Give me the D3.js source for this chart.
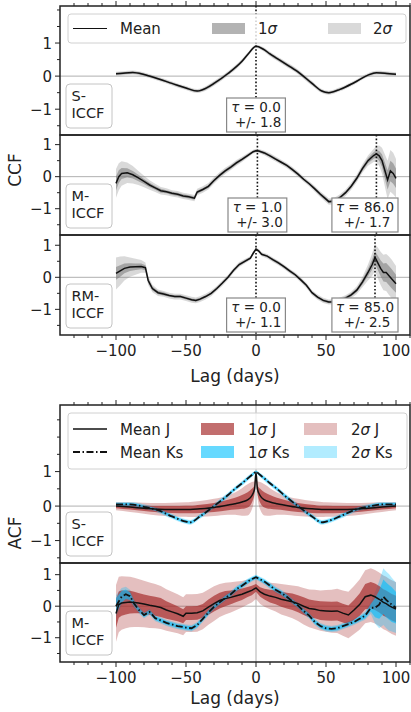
<!DOCTYPE html>
<html>
<head>
<meta charset="utf-8">
<script src="https://cdn.jsdelivr.net/npm/d3@7"></script>
<style>
body { margin: 0; background: #fff; }
text { font-family: "DejaVu Sans", sans-serif; fill: #222; }
</style>
</head>
<body>
<div id="chart"></div>
<script>
// ---------- CCF data (top figure) ----------
var lagS1 = [-100,-95,-88,-80,-70,-60,-50,-42,-35,-30,-20,-10,-5,0,5,10,20,30,40,47,52,60,70,80,86,92,100]
var ccfS1 = [0.07,0.09,0.11,0.05,-0.08,-0.22,-0.36,-0.45,-0.35,-0.22,0.08,0.45,0.7,0.9,0.82,0.67,0.4,0.13,-0.22,-0.45,-0.5,-0.4,-0.2,0.03,0.1,0.09,0.06]
var s1S1 = [0.03,0.03,0.03,0.03,0.03,0.03,0.03,0.03,0.04,0.04,0.04,0.04,0.03,0.02,0.03,0.04,0.04,0.04,0.04,0.03,0.03,0.03,0.03,0.03,0.03,0.03,0.03]
var s2S1 = [0.06,0.06,0.06,0.06,0.06,0.06,0.06,0.06,0.07,0.07,0.07,0.07,0.06,0.05,0.06,0.07,0.07,0.07,0.07,0.06,0.06,0.06,0.06,0.06,0.06,0.06,0.06]

var lagM1 = [-100,-98,-96,-92,-88,-84,-80,-76,-72,-68,-64,-60,-56,-52,-48,-44,-42,-38,-34,-30,-26,-22,-18,-14,-10,-6,-2,0,2,6,10,14,18,22,26,30,34,38,42,46,50,52,56,60,64,68,72,76,80,84,86,88,90,92,94,96,98,100]
var ccfM1 = [-0.21,0.0,0.1,0.12,0.06, -0.04,-0.15,-0.26,-0.35,-0.44, -0.47,-0.52,-0.55,-0.6,-0.63, -0.67,-0.48,-0.4,-0.3,-0.12,
  0.04,0.18,0.3,0.43,0.54, 0.66,0.78,0.81,0.8,0.74, 0.65,0.55,0.45,0.35,0.22, 0.08,-0.08,-0.22,-0.38,-0.55,
  -0.7,-0.78,-0.76,-0.65,-0.5, -0.3,-0.05,0.25,0.5,0.66, 0.71,0.65,0.5,0.2,-0.1, 0.18,0.1,-0.05]
var s1M1 = [0.22,0.2,0.17,0.14,0.12, 0.1,0.08,0.07,0.06,0.06, 0.05,0.05,0.05,0.05,0.05, 0.05,0.05,0.05,0.05,0.05,
  0.05,0.05,0.05,0.05,0.04, 0.04,0.03,0.03,0.03,0.04, 0.04,0.04,0.04,0.04,0.04, 0.04,0.04,0.04,0.04,0.05,
  0.05,0.05,0.05,0.05,0.05, 0.05,0.06,0.07,0.08,0.1, 0.12,0.15,0.2,0.25,0.3, 0.32,0.32,0.3]
var s2M1 = [0.45,0.42,0.38,0.32,0.27, 0.22,0.18,0.15,0.13,0.12, 0.11,0.1,0.1,0.1,0.1, 0.1,0.1,0.1,0.1,0.1,
  0.1,0.1,0.09,0.09,0.08, 0.07,0.06,0.06,0.06,0.07, 0.08,0.08,0.08,0.08,0.08, 0.08,0.08,0.08,0.09,0.09,
  0.1,0.1,0.1,0.1,0.1, 0.11,0.12,0.13,0.16,0.2, 0.25,0.32,0.4,0.5,0.6, 0.65,0.65,0.6]

var lagR1 = [-100,-97,-94,-90,-86,-82,-79,-77,-74,-70,-66,-62,-58,-54,-50,-46,-43,-40,-36,-32,-28,-24,-20,-16,-12,-8,-4,-2,0,2,4,8,12,16,20,24,28,32,36,40,44,48,52,56,60,64,68,72,76,80,83,85,87,89,91,93,95,97,100]
var ccfR1 = [0.12,0.2,0.28,0.32,0.33, 0.34,0.3,-0.1,-0.35,-0.48, -0.52,-0.57,-0.6,-0.6,-0.65, -0.7,-0.72,-0.68,-0.6,-0.5,
  -0.35,-0.18,0.0,0.22,0.4, 0.5,0.6,0.75,0.88,0.82, 0.72,0.66,0.55,0.45,0.33, 0.2,0.08,-0.08,-0.25,-0.48,
  -0.62,-0.72,-0.77,-0.76,-0.72, -0.65,-0.55,-0.4,-0.15,0.15, 0.4,0.62,0.45,0.28,0.15, 0.15,0.05,-0.05,-0.2]
var s1R1 = [0.2,0.18,0.15,0.12,0.1, 0.09,0.08,0.07,0.06,0.05, 0.05,0.04,0.04,0.04,0.04, 0.04,0.04,0.04,0.04,0.04,
  0.04,0.04,0.04,0.04,0.04, 0.04,0.03,0.03,0.03,0.03, 0.03,0.03,0.04,0.04,0.04, 0.04,0.04,0.04,0.04,0.04,
  0.04,0.04,0.04,0.04,0.04, 0.05,0.05,0.06,0.08,0.12, 0.16,0.2,0.22,0.25,0.28, 0.3,0.3,0.3,0.28]
var s2R1 = [0.5,0.45,0.38,0.3,0.25, 0.2,0.16,0.14,0.12,0.1, 0.09,0.09,0.09,0.09,0.09, 0.09,0.09,0.09,0.09,0.09,
  0.08,0.08,0.08,0.08,0.08, 0.07,0.06,0.06,0.05,0.06, 0.06,0.07,0.07,0.07,0.07, 0.07,0.07,0.08,0.08,0.08,
  0.08,0.08,0.08,0.08,0.09, 0.09,0.1,0.12,0.16,0.25, 0.35,0.42,0.48,0.52,0.55, 0.58,0.6,0.6,0.55]

// peak lags and errors written in the boxes
var tauVal = [[0.0], [1.0, 86.0], [0.0, 85.0]]
var tauErr = [[1.8], [3.0, 1.7], [1.1, 2.5]]

// ---------- ACF data (bottom figure) ----------
var lagSA = [-100,-90,-80,-70,-60,-50,-47,-40,-30,-20,-15,-10,-6,-3,-1,0,1,3,6,10,15,20,30,40,47,50,60,70,80,90,100]
var acfJ_S = [0.0,-0.03,-0.06,-0.09,-0.1,-0.1,-0.1,-0.08,-0.04,0.03,0.07,0.12,0.18,0.3,0.5,0.98,
  0.5,0.3,0.18,0.12,0.07,0.03,-0.04,-0.08,-0.1,-0.1,-0.1,-0.09,-0.06,-0.03,0.0]
var s1J_S = [0.06,0.07,0.08,0.09,0.1,0.11,0.11,0.12,0.13,0.15,0.17,0.2,0.22,0.2,0.12,0.02,
  0.12,0.2,0.22,0.2,0.17,0.15,0.13,0.12,0.11,0.11,0.1,0.09,0.08,0.07,0.06]
var s2J_S = [0.12,0.14,0.16,0.18,0.2,0.21,0.22,0.23,0.25,0.28,0.32,0.4,0.45,0.4,0.22,0.03,
  0.22,0.4,0.45,0.4,0.32,0.28,0.25,0.23,0.22,0.21,0.2,0.18,0.16,0.14,0.12]
var acfK_S = [0.05,0.05,-0.02,-0.12,-0.3,-0.45,-0.47,-0.3,0.0,0.32,0.5,0.66,0.8,0.9,0.97,1.0,
  0.97,0.9,0.8,0.66,0.5,0.32,0.0,-0.3,-0.47,-0.45,-0.3,-0.12,-0.02,0.05,0.05]
var s1K_S = [0.04,0.04,0.04,0.04,0.04,0.04,0.04,0.04,0.04,0.04,0.04,0.04,0.04,0.04,0.03,0.02,
  0.03,0.04,0.04,0.04,0.04,0.04,0.04,0.04,0.04,0.04,0.04,0.04,0.04,0.04,0.04]
var s2K_S = [0.07,0.07,0.07,0.07,0.07,0.07,0.07,0.07,0.07,0.07,0.07,0.07,0.07,0.06,0.05,0.03,
  0.05,0.06,0.07,0.07,0.07,0.07,0.07,0.07,0.07,0.07,0.07,0.07,0.07,0.07,0.07]

var lagMA = [-100,-98,-96,-93,-90,-87,-84,-80,-76,-72,-68,-64,-60,-56,-52,-50,-46,-42,-38,-34,-30,-26,-22,-18,-14,-10,-6,-3,0,3,6,10,14,18,22,26,30,34,38,42,46,50,54,58,62,66,70,74,78,82,85,88,91,93,95,97,100]
var acfJ_M = [-0.23,0.05,0.1,0.12,0.13, 0.12,0.1,0.07,0.03,0.0, -0.04,-0.12,-0.18,-0.24,-0.32, -0.22,-0.22,-0.21,-0.15,-0.03,
  0.08,0.18,0.24,0.28,0.33, 0.38,0.45,0.5,0.58,0.45, 0.38,0.32,0.28,0.22,0.18, 0.14,0.08,0.0,-0.07,-0.1,
  -0.14,-0.15,-0.16,-0.15,-0.22, -0.28,-0.12,0.05,0.3,0.35, 0.3,0.22,0.12,0.08,0.02, -0.03,-0.09]
var s1J_M = [0.45,0.42,0.4,0.38,0.36, 0.34,0.32,0.3,0.3,0.3, 0.3,0.28,0.26,0.24,0.22, 0.22,0.22,0.22,0.22,0.24,
  0.25,0.25,0.24,0.22,0.2, 0.18,0.16,0.15,0.12,0.15, 0.17,0.2,0.22,0.24,0.25, 0.26,0.27,0.28,0.28,0.28,
  0.3,0.3,0.3,0.3,0.3, 0.3,0.32,0.35,0.4,0.42, 0.42,0.42,0.42,0.42,0.42, 0.42,0.42]
var s2J_M = [0.9,0.88,0.85,0.82,0.8, 0.78,0.76,0.74,0.72,0.7, 0.68,0.66,0.64,0.62,0.6, 0.6,0.6,0.6,0.58,0.56,
  0.55,0.52,0.5,0.48,0.45, 0.42,0.4,0.38,0.35,0.38, 0.4,0.42,0.45,0.48,0.5, 0.52,0.55,0.58,0.6,0.62,
  0.64,0.66,0.68,0.7,0.72, 0.74,0.76,0.8,0.84,0.85, 0.85,0.85,0.85,0.85,0.85, 0.85,0.85]
var acfK_M = [0.0,0.15,0.3,0.38,0.32, 0.08,-0.1,-0.28,-0.18,-0.38, -0.45,-0.53,-0.58,-0.63,-0.66, -0.68,-0.7,-0.6,-0.4,-0.2,
  -0.02,0.12,0.26,0.38,0.54, 0.65,0.78,0.86,0.92,0.85, 0.78,0.65,0.52,0.42,0.3, 0.15,0.02,-0.15,-0.3,-0.5,
  -0.63,-0.7,-0.72,-0.7,-0.63, -0.57,-0.5,-0.4,-0.3,-0.05, -0.05,0.05,0.3,0.2,0.12, 0.05,-0.05]
var s1K_M = [0.25,0.22,0.18,0.15,0.12, 0.08,0.07,0.06,0.06,0.06, 0.06,0.06,0.06,0.06,0.06, 0.06,0.06,0.06,0.06,0.06,
  0.06,0.06,0.06,0.06,0.06, 0.06,0.06,0.05,0.05,0.05, 0.06,0.06,0.06,0.06,0.06, 0.06,0.06,0.06,0.06,0.06,
  0.06,0.06,0.06,0.06,0.06, 0.06,0.06,0.07,0.08,0.12, 0.3,0.45,0.55,0.55,0.55, 0.55,0.5]
var s2K_M = [0.35,0.32,0.28,0.24,0.2, 0.15,0.12,0.1,0.1,0.1, 0.1,0.1,0.1,0.1,0.1, 0.1,0.1,0.1,0.1,0.1,
  0.1,0.1,0.1,0.1,0.1, 0.1,0.09,0.08,0.08,0.08, 0.09,0.1,0.1,0.1,0.1, 0.1,0.1,0.1,0.1,0.1,
  0.1,0.1,0.1,0.1,0.1, 0.1,0.1,0.11,0.13,0.2, 0.5,0.75,0.9,0.9,0.9, 0.85,0.8]

var xTicks = [-100, -50, 0, 50, 100]

// ---------- layout ----------
var width = 411, height = 712
var svg = d3.select("#chart").append("svg")
  .attr("width", width).attr("height", height)
  .style("background", "#fff")

var x = d3.scaleLinear().domain([-140, 110]).range([60, 410])

var gray = "#808080", brown = "#a52a2a", sky = "#00bfff"
var dashDot = "7,2.5,1.5,2.5"
// 1 sigma opacity per colour
var op1 = {}
op1[gray] = 0.6; op1[brown] = 0.68; op1[sky] = 0.6

function rows(lags, m, s1, s2) {
  return lags.map(function(l, i) { return {lag: l, m: m[i], s1: s1[i], s2: s2[i]} })
}

var panels = [
  {top: 6, bot: 135, ydom: [-1.78, 2.12], label: ["S-", "ICCF"], vline: "dot", taus: 0,
   series: [{d: rows(lagS1, ccfS1, s1S1, s2S1), col: gray, smooth: true}]},
  {top: 135, bot: 235, ydom: [-1.82, 1.3], label: ["M-", "ICCF"], vline: "dot", taus: 1,
   series: [{d: rows(lagM1, ccfM1, s1M1, s2M1), col: gray}]},
  {top: 235, bot: 335, ydom: [-1.8, 1.32], label: ["RM-", "ICCF"], vline: "dot", taus: 2,
   series: [{d: rows(lagR1, ccfR1, s1R1, s2R1), col: gray}]},
  {top: 405, bot: 563, ydom: [-1.65, 2.93], label: ["S-", "ICCF"], vline: "gray",
   series: [{d: rows(lagSA, acfJ_S, s1J_S, s2J_S), col: brown, smooth: true},
            {d: rows(lagSA, acfK_S, s1K_S, s2K_S), col: sky, smooth: true, dash: dashDot}]},
  {top: 563, bot: 662, ydom: [-1.77, 1.37], label: ["M-", "ICCF"], vline: "gray",
   series: [{d: rows(lagMA, acfJ_M, s1J_M, s2J_M), col: brown},
            {d: rows(lagMA, acfK_M, s1K_M, s2K_M), col: sky, dash: dashDot}]}
]

panels.forEach(function(p, pi) {
  var y = d3.scaleLinear().domain(p.ydom).range([p.bot, p.top])
  var g = svg.append("g")

  g.append("clipPath").attr("id", "clip" + pi)
    .append("rect").attr("x", x.range()[0]).attr("y", p.top)
    .attr("width", x.range()[1] - x.range()[0]).attr("height", p.bot - p.top)
  var inner = g.append("g").attr("clip-path", "url(#clip" + pi + ")")

  // zero line
  inner.append("line")
    .attr("x1", x.range()[0]).attr("x2", x.range()[1])
    .attr("y1", y(0)).attr("y2", y(0))
    .attr("stroke", "#b0b0b0").attr("stroke-width", 1)
  if (p.vline == "gray") {
    inner.append("line").attr("x1", x(0)).attr("x2", x(0))
      .attr("y1", p.top).attr("y2", p.bot)
      .attr("stroke", "#b0b0b0").attr("stroke-width", 1)
  }

  // bands: all 2 sigma first, then 1 sigma
  ["s2", "s1"].forEach(function(k) {
    p.series.forEach(function(s) {
      var area = d3.area()
        .x(function(d) { return x(d.lag) })
        .y0(function(d) { return y(d.m - d[k]) })
        .y1(function(d) { return y(d.m + d[k]) })
        .curve(s.smooth ? d3.curveMonotoneX : d3.curveLinear)
      inner.append("path").datum(s.d).attr("d", area)
        .attr("fill", s.col).attr("fill-opacity", k == "s2" ? 0.3 : op1[s.col])
    })
  })

  p.series.forEach(function(s) {
    var line = d3.line()
      .x(function(d) { return x(d.lag) })
      .y(function(d) { return y(d.m) })
      .curve(s.smooth ? d3.curveMonotoneX : d3.curveLinear)
    inner.append("path").datum(s.d).attr("d", line)
      .attr("fill", "none").attr("stroke", "#111")
      .attr("stroke-width", s.dash ? 1.8 : 1.5)
      .attr("stroke-dasharray", s.dash || null)
  })

  // dotted peak lines
  if (p.taus !== undefined) {
    tauVal[p.taus].forEach(function(t, j) {
      inner.append("line").attr("x1", x(t)).attr("x2", x(t))
        .attr("y1", p.top).attr("y2", p.bot)
        .attr("stroke", "#111").attr("stroke-width", 1.6)
        .attr("stroke-dasharray", "1.6,2")
    })
  }

  // spines
  g.append("rect").attr("x", x.range()[0]).attr("y", p.top)
    .attr("width", x.range()[1] - x.range()[0]).attr("height", p.bot - p.top)
    .attr("fill", "none").attr("stroke", "#222").attr("stroke-width", 1.5)

  // y ticks
  var minor = d3.range(Math.ceil(p.ydom[0] * 2), Math.floor(p.ydom[1] * 2) + 1).map(function(v) { return v / 2 })
  minor.forEach(function(v) {
    var major = v % 1 == 0 && Math.abs(v) <= 1
    g.append("line").attr("x1", x.range()[0]).attr("x2", x.range()[0] - (major ? 5 : 3))
      .attr("y1", y(v)).attr("y2", y(v)).attr("stroke", "#222").attr("stroke-width", 1)
    if (major) {
      g.append("text").attr("x", x.range()[0] - 8).attr("y", y(v) + 5.5)
        .attr("text-anchor", "end").style("font-size", "15px")
        .text(v < 0 ? "\u2212" + Math.abs(v) : v)
    }
  })

  // label box
  var lb = g.append("g")
  lb.append("rect").attr("x", 66).attr("y", p.bot - 51).attr("width", 46).attr("height", 44)
    .attr("rx", 4).attr("fill", "#fff").attr("stroke", "#c4c4c4").attr("stroke-width", 1)
  p.label.forEach(function(t, j) {
    lb.append("text").attr("x", 71.5).attr("y", p.bot - 34 + j * 17)
      .style("font-size", "14.5px").text(t)
  })

  // tau annotation boxes
  if (p.taus !== undefined) {
    tauVal[p.taus].forEach(function(t, j) {
      var bx = g.append("g")
      var rect = bx.append("rect")
      var txt = bx.append("text").style("font-size", "13.5px").attr("text-anchor", "middle")
      txt.append("tspan").attr("x", 0).attr("y", 0)
        .append("tspan").style("font-style", "italic").text("\u03c4")
      txt.select("tspan").append("tspan").text(" = " + t.toFixed(1))
      txt.append("tspan").attr("x", 0).attr("dy", 15).text(" +/- " + tauErr[p.taus][j].toFixed(1))
      var bb = txt.node().getBBox()
      var w = bb.width + 8, h = 34
      var cx = Math.min(x(t), x.range()[1] - 12 - w / 2)
      var top = p.bot - 3 - h
      rect.attr("x", -w / 2).attr("y", 0).attr("width", w).attr("height", h)
        .attr("fill", "#fff").attr("stroke", "#888").attr("stroke-width", 1.2)
      txt.attr("transform", "translate(0,13.5)")
      bx.attr("transform", "translate(" + cx + "," + top + ")")
    })
  }
})

// x ticks on the outer edges of each figure
function xAxis(yEdge, dir, labels, labOff) {
  var g = svg.append("g")
  d3.range(-130, 111, 10).forEach(function(v) {
    var major = xTicks.indexOf(v) >= 0
    g.append("line").attr("x1", x(v)).attr("x2", x(v))
      .attr("y1", yEdge).attr("y2", yEdge + dir * (major ? 5 : 3))
      .attr("stroke", "#222").attr("stroke-width", 1)
  })
  if (labels) {
    xTicks.forEach(function(v) {
      g.append("text").attr("x", x(v)).attr("y", yEdge + 21)
        .attr("text-anchor", "middle").style("font-size", "15px")
        .text(v < 0 ? "\u2212" + Math.abs(v) : v)
    })
    g.append("text").attr("x", (x.range()[0] + x.range()[1]) / 2).attr("y", yEdge + labOff)
      .attr("text-anchor", "middle").style("font-size", "17px").text("Lag (days)")
  }
}
xAxis(6, -1, false)
xAxis(335, 1, true, 47)
xAxis(405, -1, false)
xAxis(662, 1, true, 42)

svg.append("text").attr("transform", "translate(21,170) rotate(-90)")
  .attr("text-anchor", "middle").style("font-size", "17px").text("CCF")
svg.append("text").attr("transform", "translate(21,533) rotate(-90)")
  .attr("text-anchor", "middle").style("font-size", "17px").text("ACF")

// legends
function sigmaText(sel, n, suffix) {
  sel.append("tspan").text(n)
  sel.append("tspan").style("font-style", "italic").text("\u03c3")
  if (suffix) sel.append("tspan").text(" " + suffix)
}

var leg1 = svg.append("g")
leg1.append("rect").attr("x", 68).attr("y", 14).attr("width", 338).attr("height", 29)
  .attr("rx", 3).attr("fill", "#fff").attr("fill-opacity", 0.8).attr("stroke", "#d0d0d0")
leg1.append("line").attr("x1", 73).attr("x2", 107).attr("y1", 28.5).attr("y2", 28.5)
  .attr("stroke", "#111").attr("stroke-width", 1.2)
leg1.append("text").attr("x", 120).attr("y", 34).style("font-size", "15px").text("Mean")
leg1.append("rect").attr("x", 212).attr("y", 23).attr("width", 33).attr("height", 11)
  .attr("fill", gray).attr("fill-opacity", 0.6)
sigmaText(leg1.append("text").attr("x", 258).attr("y", 34).style("font-size", "15px"), "1")
leg1.append("rect").attr("x", 328).attr("y", 23).attr("width", 33).attr("height", 11)
  .attr("fill", gray).attr("fill-opacity", 0.3)
sigmaText(leg1.append("text").attr("x", 373).attr("y", 34).style("font-size", "15px"), "2")

var leg2 = svg.append("g")
leg2.append("rect").attr("x", 68).attr("y", 413).attr("width", 339).attr("height", 56)
  .attr("rx", 3).attr("fill", "#fff").attr("fill-opacity", 0.8).attr("stroke", "#d0d0d0")
var legRows = [{name: "J", col: brown, dash: null, yy: 429}, {name: "Ks", col: sky, dash: dashDot, yy: 452}]
legRows.forEach(function(r) {
  leg2.append("line").attr("x1", 73).attr("x2", 107).attr("y1", r.yy).attr("y2", r.yy)
    .attr("stroke", "#111").attr("stroke-width", r.dash ? 1.8 : 1.5).attr("stroke-dasharray", r.dash)
  leg2.append("text").attr("x", 120).attr("y", r.yy + 5.5).style("font-size", "15px").text("Mean " + r.name)
  leg2.append("rect").attr("x", 201).attr("y", r.yy - 6).attr("width", 33).attr("height", 12)
    .attr("fill", r.col).attr("fill-opacity", op1[r.col])
  sigmaText(leg2.append("text").attr("x", 248).attr("y", r.yy + 5.5).style("font-size", "15px"), "1", r.name)
  leg2.append("rect").attr("x", 304).attr("y", r.yy - 6).attr("width", 33).attr("height", 12)
    .attr("fill", r.col).attr("fill-opacity", 0.3)
  sigmaText(leg2.append("text").attr("x", 351).attr("y", r.yy + 5.5).style("font-size", "15px"), "2", r.name)
})
</script>
</body>
</html>
